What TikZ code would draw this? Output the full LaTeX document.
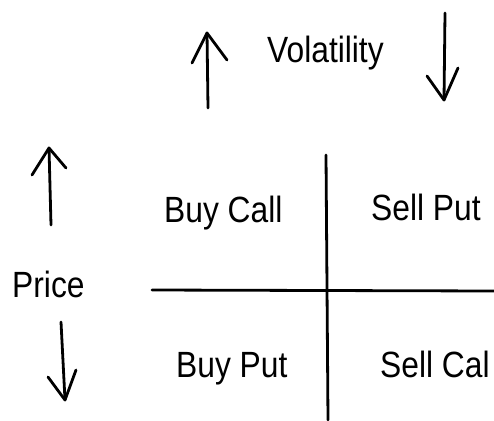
\documentclass[tikz,border=0pt]{standalone}
\usepackage{fontspec}
\setmainfont{Liberation Sans}[FakeStretch=0.87]
\tikzset{
  pen/.style={line width=2.8pt, line cap=round, line join=round},
  lbl/.style={anchor=base west, inner sep=0pt, font=\fontsize{36.5}{40}\selectfont},
}
\begin{document}
\begin{tikzpicture}[x=1pt, y=-1pt]
\useasboundingbox (0,0) rectangle (494,420);
% labels
\node[lbl] (vol) at (267,63) {Volatility};
\node[lbl] (price) at (12,297) {Price};
\node[lbl] (buycall) at (164,222) {Buy Call};
\node[lbl] (sellput) at (371,220) {Sell Put};
\node[lbl] (buyput) at (176,377) {Buy Put};
\node[lbl] (sellcall) at (380,377) {Sell Cal};
% quadrant lines
\draw[pen] (152,290) -- (494,291);
\draw[pen] (326,155) -- (328,420);
% volatility arrows
\draw[pen] (208,108) -- (207,33);
\draw[pen] (192,63) -- (207,33) -- (227,60);
\draw[pen] (445,13) -- (444,100);
\draw[pen] (427,76) -- (444,100) -- (458,68);
% price arrows
\draw[pen] (51,225) -- (49,148);
\draw[pen] (32,175) -- (49,148) -- (66,168);
\draw[pen] (61,322) -- (65,400);
\draw[pen] (48,377) -- (65,400) -- (76,370);
\end{tikzpicture}
\end{document}
